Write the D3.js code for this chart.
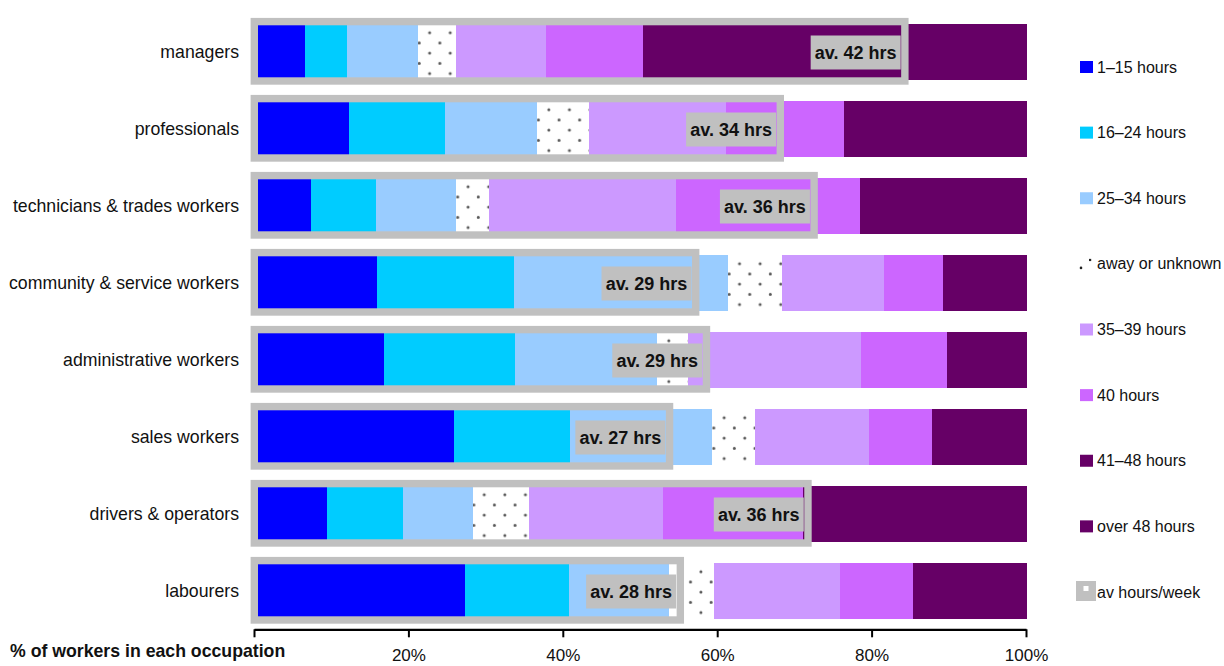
<!DOCTYPE html>
<html>
<head>
<meta charset="utf-8">
<script src="https://cdn.jsdelivr.net/npm/d3@7"></script>
<style>
  html, body { margin: 0; padding: 0; background: #fff; }
  svg { display: block; font-family: "Liberation Sans", Arial, sans-serif; }
</style>
</head>
<body>
<svg id="chart" width="1224" height="666"></svg>
<script>
// ---------- data ----------
const categories = ["managers", "professionals", "technicians & trades workers",
  "community & service workers", "administrative workers", "sales workers",
  "drivers & operators ", "labourers"];

const seriesNames = ["1\u201315 hours", "16\u201324 hours", "25\u201334 hours", "away or unknown",
  "35\u201339 hours", "40 hours", "41\u201348 hours", "over 48 hours"];

const h1_15   = [6.1, 11.8, 6.9, 15.5, 16.4, 25.5, 9.0, 26.9];
const h16_24  = [5.5, 12.5, 8.5, 17.8, 17.0, 15.1, 9.8, 13.5];
const h25_34  = [9.2, 12.0, 10.4, 27.8, 18.5, 18.5, 9.1, 13.0];
const awayUnk = [4.9, 6.8, 4.3, 7.0, 4.0, 5.5, 7.4, 5.9];
const h35_39  = [11.8, 17.8, 24.3, 13.3, 22.5, 14.8, 17.4, 16.4];
const h40     = [12.5, 15.3, 23.9, 7.7, 11.2, 8.3, 18.2, 9.5];
const h41_48  = [17.5, 12.8, 11.5, 6.0, 5.8, 6.8, 14.5, 8.0];
const h49plus = [32.5, 11.0, 10.2, 4.9, 4.6, 5.5, 14.6, 6.8];

const avgHours   = [42.3, 34.2, 36.4, 28.7, 29.4, 27.0, 36.0, 27.7];
const avgLabels  = ["av. 42 hrs", "av. 34 hrs", "av. 36 hrs", "av. 29 hrs",
  "av. 29 hrs", "av. 27 hrs", "av. 36 hrs", "av. 28 hrs"];

const tickValues = [0, 20, 40, 60, 80, 100];
const tickLabels = ["", "20%", "40%", "60%", "80%", "100%"];
const axisTitle = "% of workers in each occupation";
const avLegendLabel = "av hours/week";

const colors = ["#0000FF", "#00CCFF", "#99CCFF", "pattern", "#CC99FF", "#CC66FF", "#660066", "#660066"];

// ---------- build table ----------
const seriesArrays = [h1_15, h16_24, h25_34, awayUnk, h35_39, h40, h41_48, h49plus];
const keys = seriesNames;
const table = categories.map((c, i) => {
  const row = { cat: c, idx: i };
  keys.forEach((k, j) => row[k] = seriesArrays[j][i]);
  return row;
});
const stacked = d3.stack().keys(keys)(table);

// ---------- scales ----------
const svg = d3.select("#chart");
const x = d3.scaleLinear().domain([0, 100]).range([258, 1027]);
const xAxisScale = d3.scaleLinear().domain([0, 100]).range([254, 1026]);
const hoursX = d3.scaleLinear().domain([0, 50]).range([258, 1027]);
const y = d3.scaleBand().domain(categories).range([13.5, 629.5])
  .paddingInner(21 / 77).paddingOuter(10.5 / 77);

// ---------- patterns ----------
const defs = svg.append("defs");
const dotColor = "#5a5a5a";
categories.forEach((c, i) => {
  const segStart = x(stacked[3][i][0]);
  const p = defs.append("pattern")
    .attr("id", "dots" + i)
    .attr("patternUnits", "userSpaceOnUse")
    .attr("x", segStart).attr("y", y(c))
    .attr("width", 20.6).attr("height", 20.4);
  p.append("rect").attr("width", 20.6).attr("height", 20.4).attr("fill", "#fff");
  p.append("circle").attr("cx", 11.7).attr("cy", 8.7).attr("r", 1.5).attr("fill", dotColor);
  p.append("circle").attr("cx", 1.3).attr("cy", 19).attr("r", 1.5).attr("fill", dotColor);
  p.append("circle").attr("cx", 21.9).attr("cy", 19).attr("r", 1.5).attr("fill", dotColor);
});

// ---------- bars ----------
const gBars = svg.append("g").attr("shape-rendering", "crispEdges");
stacked.forEach((layer, j) => {
  gBars.append("g").selectAll("rect").data(layer).join("rect")
    .attr("x", d => x(d[0]))
    .attr("y", d => y(d.data.cat))
    .attr("width", d => x(d[1]) - x(d[0]) + (j < stacked.length - 1 ? 0.6 : 0))
    .attr("height", y.bandwidth())
    .attr("fill", d => colors[j] === "pattern" ? `url(#dots${d.data.idx})` : colors[j]);
});

// ---------- average frames ----------
const frameSW = 7.4;
const gFrames = svg.append("g");
gFrames.selectAll("rect").data(categories).join("rect")
  .attr("x", (c) => hoursX(0) - frameSW / 2)
  .attr("y", c => y(c) - 2.4)
  .attr("width", (c, i) => hoursX(avgHours[i]) - hoursX(0))
  .attr("height", 59.4)
  .attr("fill", "none")
  .attr("stroke", "#c0c0c0")
  .attr("stroke-width", frameSW);

// ---------- average labels ----------
const boxW = 90, boxH = 34;
const gLab = svg.append("g");
categories.forEach((c, i) => {
  const right = hoursX(avgHours[i]) - frameSW - 0.5;
  const cy = y(c) + y.bandwidth() / 2 + 0.5;
  gLab.append("rect")
    .attr("x", right - boxW).attr("y", cy - boxH / 2)
    .attr("width", boxW).attr("height", boxH)
    .attr("fill", "#c0c0c0");
  gLab.append("text")
    .attr("x", right - boxW / 2).attr("y", cy)
    .attr("dy", "0.36em")
    .attr("text-anchor", "middle")
    .attr("font-size", "18px").attr("font-weight", "bold")
    .attr("fill", "#111")
    .text(avgLabels[i]);
});

// ---------- category labels ----------
svg.append("g").selectAll("text").data(categories).join("text")
  .attr("x", 239)
  .attr("y", c => y(c) + y.bandwidth() / 2)
  .attr("dy", "0.35em")
  .attr("text-anchor", "end")
  .attr("font-size", "17.7px")
  .attr("fill", "#111")
  .text(c => c);

// ---------- axis ----------
const axis = d3.axisBottom(xAxisScale)
  .tickValues(tickValues)
  .tickSize(8)
  .tickSizeOuter(0)
  .tickPadding(12)
  .tickFormat((d, i) => tickLabels[i]);
const gAxis = svg.append("g").attr("transform", "translate(0,629.3)").call(axis);
gAxis.select(".domain").attr("stroke", "#000").attr("stroke-width", 2.2);
gAxis.selectAll(".tick line").attr("stroke", "#000").attr("stroke-width", 2);
gAxis.selectAll(".tick text")
  .attr("font-family", "'Liberation Sans', Arial, sans-serif")
  .attr("font-size", "17px").attr("fill", "#111");

svg.append("text")
  .attr("x", 10).attr("y", 657)
  .attr("font-size", "17.7px").attr("font-weight", "bold")
  .attr("fill", "#111")
  .text(axisTitle);

// ---------- legend ----------
const legend = svg.append("g");
const legendY = d3.scaleLinear().domain([0, 8]).range([67, 592]);
seriesNames.forEach((name, j) => {
  const cy = legendY(j);
  if (colors[j] === "pattern") {
    legend.append("circle").attr("cx", 1081).attr("cy", cy + 4).attr("r", 1.3).attr("fill", "#222");
    legend.append("rect").attr("x", 1089).attr("y", cy - 5).attr("width", 2.2).attr("height", 2.2).attr("fill", "#222");
  } else {
    legend.append("rect").attr("x", 1080).attr("y", cy - 6).attr("width", 13).attr("height", 12)
      .attr("fill", colors[j]);
  }
  legend.append("text").attr("x", 1097).attr("y", cy).attr("dy", "0.35em")
    .attr("font-size", "16px").attr("fill", "#111").text(name);
});
{
  const cy = legendY(8);
  legend.append("rect").attr("x", 1076).attr("y", cy - 11).attr("width", 20).attr("height", 20).attr("fill", "#c0c0c0");
  legend.append("rect").attr("x", 1083.5).attr("y", cy - 6).attr("width", 5).attr("height", 5).attr("fill", "#fff");
  legend.append("text").attr("x", 1097).attr("y", cy).attr("dy", "0.35em")
    .attr("font-size", "16px").attr("fill", "#111").text(avLegendLabel);
}
</script>
</body>
</html>
